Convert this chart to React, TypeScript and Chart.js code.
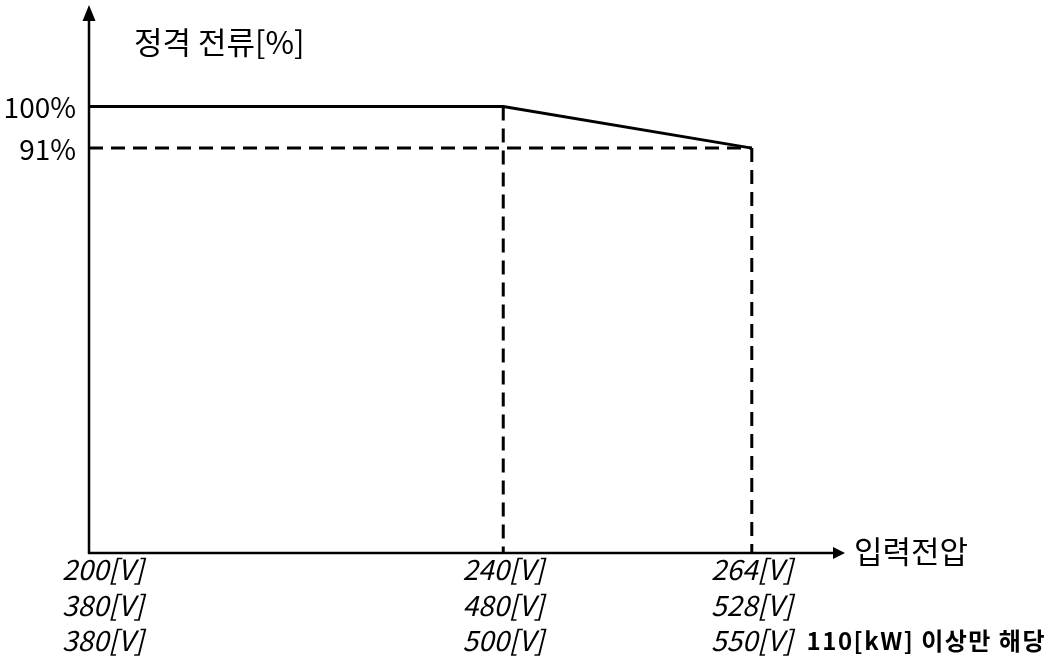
import { useEffect, useRef } from 'react';
import { Chart, registerables } from 'chart.js';

Chart.register(...registerables);

// ---- data ----
const voltages = [200, 240, 264];
const ratedCurrent = [100, 100, 91];
const deratedLevel = 91;
const yTickValues = [100, 91];
const yTickLabels = ['100%', '91%'];
const xTickLabels = [
  ['200[V]', '380[V]', '380[V]'],
  ['240[V]', '480[V]', '500[V]'],
  ['264[V]', '528[V]', '550[V]'],
];
const yTitle = '정격 전류[%]';
const xTitle = '입력전압';
const noteText = '110[kW] 이상만 해당';

const X_MIN = 200;
const X_MAX = 273;
const Y_MIN = 3.3;
const Y_MAX = 122;

const KFONT = '"Noto Sans CJK KR", "Noto Sans", sans-serif';
const DASH = [14, 8];

const decorPlugin = {
  id: 'decor',
  afterDraw(chart: any) {
    const ctx = chart.ctx as CanvasRenderingContext2D;
    const xs = chart.scales.x;
    const ys = chart.scales.y;
    const left = xs.getPixelForValue(X_MIN);
    const right = xs.getPixelForValue(X_MAX);
    const bottom = ys.getPixelForValue(Y_MIN);
    const top = ys.getPixelForValue(Y_MAX);
    ctx.save();
    ctx.strokeStyle = '#000';
    ctx.fillStyle = '#000';
    ctx.lineWidth = 2.5;
    ctx.setLineDash([]);
    // y axis
    ctx.beginPath();
    ctx.moveTo(left, bottom + 1);
    ctx.lineTo(left, top + 12);
    ctx.stroke();
    ctx.beginPath();
    ctx.moveTo(left, top);
    ctx.lineTo(left - 6.5, top + 16);
    ctx.lineTo(left + 6.5, top + 16);
    ctx.closePath();
    ctx.fill();
    // x axis
    ctx.beginPath();
    ctx.moveTo(left - 1, bottom);
    ctx.lineTo(right - 8, bottom);
    ctx.stroke();
    ctx.beginPath();
    ctx.moveTo(right, bottom);
    ctx.lineTo(right - 12, bottom - 6);
    ctx.lineTo(right - 12, bottom + 6);
    ctx.closePath();
    ctx.fill();

    // y tick labels
    ctx.font = `28px ${KFONT}`;
    ctx.textAlign = 'right';
    ctx.textBaseline = 'middle';
    yTickValues.forEach((v, i) => {
      ctx.fillText(yTickLabels[i], left - 13, ys.getPixelForValue(v) + 1);
    });

    // titles
    ctx.textAlign = 'left';
    ctx.font = `31px ${KFONT}`;
    ctx.fillText(yTitle, left + 45, top + 37);
    ctx.fillText(xTitle, right + 9, bottom - 2);

    // x tick labels
    ctx.font = `italic 28px ${KFONT}`;
    ctx.textAlign = 'center';
    ctx.textBaseline = 'alphabetic';
    let lastRight = 0;
    voltages.forEach((v, i) => {
      const px = xs.getPixelForValue(v);
      xTickLabels[i].forEach((t, j) => {
        const w = ctx.measureText(t).width;
        const cx = Math.max(px, left - 27 + w / 2);
        ctx.fillText(t, cx, bottom + 27 + j * 35.5);
        if (i === voltages.length - 1 && j === 2) lastRight = cx + w / 2;
      });
    });

    // note
    ctx.font = `bold 24px ${KFONT}`;
    ctx.textAlign = 'left';
    (ctx as any).letterSpacing = '1.5px';
    ctx.fillText(noteText, lastRight + 14, bottom + 26 + 2 * 35.5);
    ctx.restore();
  },
};

export default function App() {
  const ref = useRef<HTMLCanvasElement | null>(null);
  useEffect(() => {
    document.body.style.margin = '0';
    const canvas = ref.current!;
    const mainLine = voltages.map((v, i) => ({ x: v, y: ratedCurrent[i] }));
    const hDash = [
      { x: voltages[0], y: deratedLevel },
      { x: voltages[voltages.length - 1], y: deratedLevel },
    ];
    const vDashes = voltages.slice(1).map((v, k) => ({
      label: 'v' + k,
      data: [
        { x: v, y: ratedCurrent[k + 1] },
        { x: v, y: Y_MIN },
      ],
      borderColor: '#000',
      borderWidth: 3,
      borderDash: DASH,
      pointRadius: 0,
      fill: false,
      clip: false as any,
    }));
    const chart = new Chart(canvas, {
      type: 'line',
      data: {
        datasets: [
          {
            label: 'rated',
            data: mainLine,
            borderColor: '#000',
            borderWidth: 3,
            pointRadius: 0,
            fill: false,
            tension: 0,
            clip: false as any,
          },
          {
            label: 'h',
            data: hDash,
            borderColor: '#000',
            borderWidth: 3,
            borderDash: DASH,
            pointRadius: 0,
            fill: false,
            clip: false as any,
          },
          ...vDashes,
        ] as any,
      },
      options: {
        animation: false,
        responsive: false,
        maintainAspectRatio: false,
        layout: { padding: { left: 89, right: 210, top: 5, bottom: 107 } },
        plugins: { legend: { display: false }, tooltip: { enabled: false } },
        scales: {
          x: { type: 'linear', min: X_MIN, max: X_MAX, display: false },
          y: { type: 'linear', min: Y_MIN, max: Y_MAX, display: false },
        },
      },
      plugins: [decorPlugin],
    });
    return () => chart.destroy();
  }, []);
  return (
    <div style={{ width: 1055, height: 660, background: '#fff' }}>
      <canvas ref={ref} width={1055} height={660} style={{ display: 'block' }} />
    </div>
  );
}
